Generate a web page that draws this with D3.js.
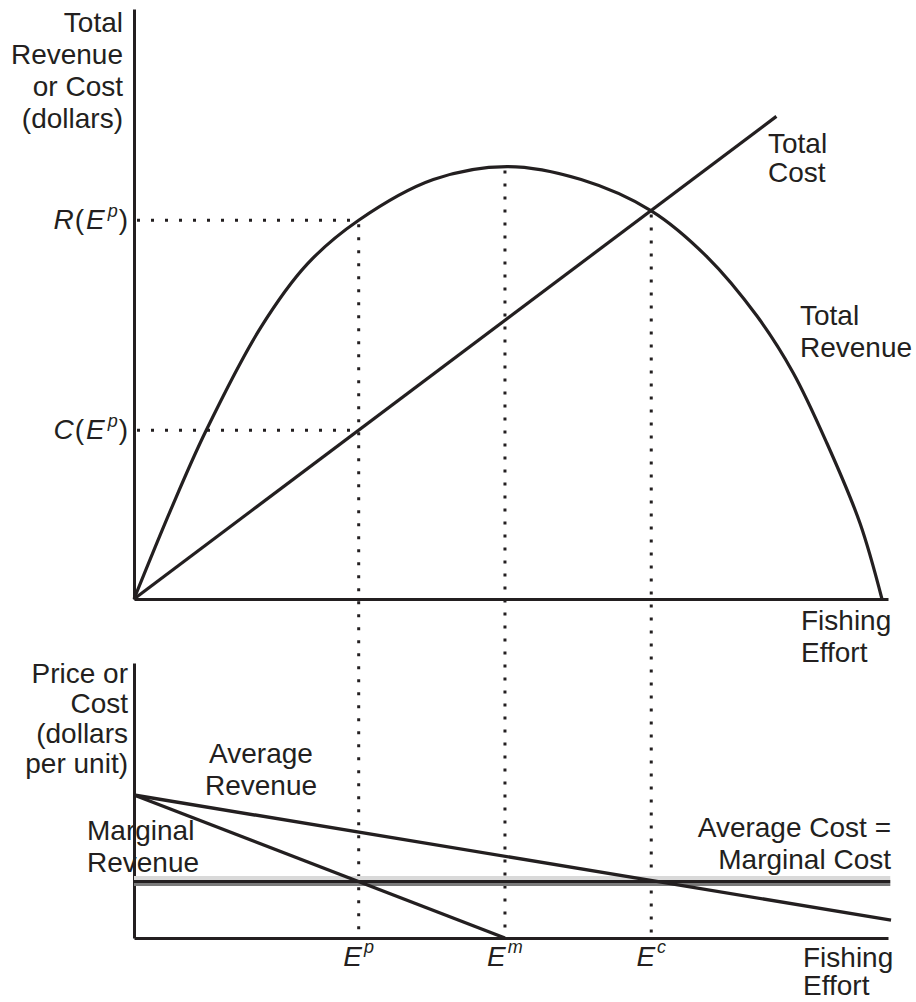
<!DOCTYPE html>
<html><head><meta charset="utf-8">
<script src="https://cdn.jsdelivr.net/npm/d3@7"></script>
<style>
body{margin:0;background:#fff}
svg{display:block}
text{font-family:"Liberation Sans",Arial,Helvetica,sans-serif;fill:#231f20;font-size:28px}
</style>
</head><body>
<svg id="chart" width="916" height="1002"></svg>
<script>
// ---- data (effort 0-100, dollars 0-100, price 0-100) ----
const revenueEffort  = [0, 4.9, 9.5, 16.8, 23.0, 29.8, 39.7, 49.5, 59.3, 68.6, 76.0, 82.6, 87.4, 91.9, 96.3, 99.2];
const revenueDollars = [0, 15.2, 28.4, 46.0, 56.8, 64.2, 71.1, 73.3, 71.1, 65.8, 58.0, 48.0, 38.4, 26.4, 12.8, 0];
const costEffort  = [0, 85.2];
const costDollars = [0, 81.8];
const effortLabels = ["p", "m", "c"];
const effortValues = [29.8, 49.2, 68.6];
const avgRevenueEffort = [0, 100.4];
const avgRevenuePrice  = [52, 6.5];
const margRevenueEffort = [0, 49.2];
const margRevenuePrice  = [52, 0];
const avgCostEffort = [0, 100.3];
const avgCostPrice  = [20.7, 20.7];

const INK = "#231f20";
const svg = d3.select("#chart");
const x  = d3.scaleLinear().domain([0, 100]).range([134, 888]);
const yT = d3.scaleLinear().domain([0, 100]).range([599, 9]);
const yB = d3.scaleLinear().domain([0, 100]).range([938, 663]);

const revenue = revenueEffort.map((e, i) => ({e, v: revenueDollars[i]}));
const cost = costEffort.map((e, i) => ({e, v: costDollars[i]}));
const costAt = e => d3.scaleLinear().domain(costEffort).range(costDollars)(e);
const revAt = e => { const i = revenueEffort.indexOf(e); return i >= 0 ? revenueDollars[i] : d3.max(revenueDollars); };

const rEp = revAt(effortValues[0]);
const cEp = costAt(effortValues[0]);
const tops = [rEp, d3.max(revenueDollars), costAt(effortValues[2])];

// ---- dotted guides ----
const dots = svg.append("g").attr("stroke", INK).attr("stroke-width", 3).attr("fill", "none");
effortValues.forEach((e, i) => {
  dots.append("line").attr("x1", x(e)).attr("x2", x(e))
    .attr("y1", yT(tops[i]) + 4).attr("y2", yB(0))
    .attr("stroke-dasharray", "3 10");
});
dots.append("line").attr("x1", x(0)).attr("x2", x(effortValues[0]))
  .attr("y1", yT(rEp)).attr("y2", yT(rEp)).attr("stroke-dasharray", "3 11").attr("stroke-dashoffset", -3);
dots.append("line").attr("x1", x(0)).attr("x2", x(effortValues[0]))
  .attr("y1", yT(cEp)).attr("y2", yT(cEp)).attr("stroke-dasharray", "3 11").attr("stroke-dashoffset", -3);

// ---- axes ----
function styleAxis(g){ g.select(".domain").attr("stroke", INK).attr("stroke-width", 3); }
svg.append("g").attr("transform", `translate(${x(0)},0)`)
  .call(d3.axisLeft(yT).tickValues([]).tickSizeOuter(0)).call(styleAxis);
svg.append("g").attr("transform", `translate(0,${yT(0)})`)
  .call(d3.axisBottom(x).tickValues([]).tickSizeOuter(0)).call(styleAxis);
svg.append("g").attr("transform", `translate(${x(0)},0)`)
  .call(d3.axisLeft(yB).tickValues([]).tickSizeOuter(0)).call(styleAxis);
svg.append("g").attr("transform", `translate(0,${yB(0)})`)
  .call(d3.axisBottom(x).tickValues([]).tickSizeOuter(0)).call(styleAxis);

// ---- top panel curves ----
const lineT = d3.line().x(d => x(d.e)).y(d => yT(d.v));
svg.append("path").datum(revenue).attr("d", lineT.curve(d3.curveCatmullRom.alpha(0.5)))
  .attr("fill", "none").attr("stroke", INK).attr("stroke-width", 3.2);
svg.append("path").datum(cost).attr("d", d3.line().x(d => x(d.e)).y(d => yT(d.v)))
  .attr("fill", "none").attr("stroke", INK).attr("stroke-width", 3.2);

// ---- bottom panel lines ----
const lineB = d3.line().x(d => x(d.e)).y(d => yB(d.v));
const ac = avgCostEffort.map((e, i) => ({e, v: avgCostPrice[i]}));
svg.append("path").datum(ac).attr("d", lineB).attr("fill", "none")
  .attr("stroke", "#d9d9d9").attr("stroke-width", 10);
svg.append("path").datum(ac).attr("d", lineB).attr("fill", "none")
  .attr("stroke", "#7a7a7a").attr("stroke-width", 3).attr("transform", "translate(0,3.5)");
svg.append("path").datum(ac).attr("d", lineB).attr("fill", "none")
  .attr("stroke", INK).attr("stroke-width", 3).attr("transform", "translate(0,0.5)");
const ar = avgRevenueEffort.map((e, i) => ({e, v: avgRevenuePrice[i]}));
const mr = margRevenueEffort.map((e, i) => ({e, v: margRevenuePrice[i]}));
[ar, mr].forEach(d => svg.append("path").datum(d).attr("d", lineB)
  .attr("fill", "none").attr("stroke", INK).attr("stroke-width", 3.4));

// ---- text ----
function block(lines, xPos, y0, step, anchor){
  const t = svg.append("g");
  lines.forEach((s, i) => t.append("text").attr("x", xPos).attr("y", y0 + i * step)
    .attr("text-anchor", anchor).text(s));
}
block(["Total", "Revenue", "or Cost", "(dollars)"], 123, 32, 32, "end");
block(["Total", "Cost"], 768, 153, 29, "start");
block(["Total", "Revenue"], 800, 325, 32, "start");
block(["Fishing", "Effort"], 801, 630, 32, "start");
block(["Price or", "Cost", "(dollars", "per unit)"], 128, 683, 30, "end");
block(["Average", "Revenue"], 261, 763, 32, "middle");
block(["Marginal", "Revenue"], 87, 840, 32, "start");
block(["Average Cost =", "Marginal Cost"], 891, 837, 32, "end");
block(["Fishing", "Effort"], 803, 967, 28, "start");

function funcLabel(letter, yPos){
  const t = svg.append("text").attr("x", 128).attr("y", yPos).attr("text-anchor", "end");
  t.append("tspan").attr("font-style", "italic").text(letter);
  t.append("tspan").attr("dx", 1).text("(");
  t.append("tspan").attr("font-style", "italic").attr("dx", 2).text("E");
  t.append("tspan").attr("font-style", "italic").attr("font-size", 18).attr("dx", 3).attr("dy", -12).text(effortLabels[0]);
  t.append("tspan").attr("dx", 1).attr("dy", 12).text(")");
}
funcLabel("R", yT(rEp) + 8.5);
funcLabel("C", yT(cEp) + 9);

effortValues.forEach((e, i) => {
  const t = svg.append("text").attr("x", x(e)).attr("y", 966).attr("text-anchor", "middle");
  t.append("tspan").attr("font-style", "italic").text("E");
  t.append("tspan").attr("font-style", "italic").attr("font-size", 18).attr("dx", 2).attr("dy", -13).text(effortLabels[i]);
});
</script>
</body></html>
